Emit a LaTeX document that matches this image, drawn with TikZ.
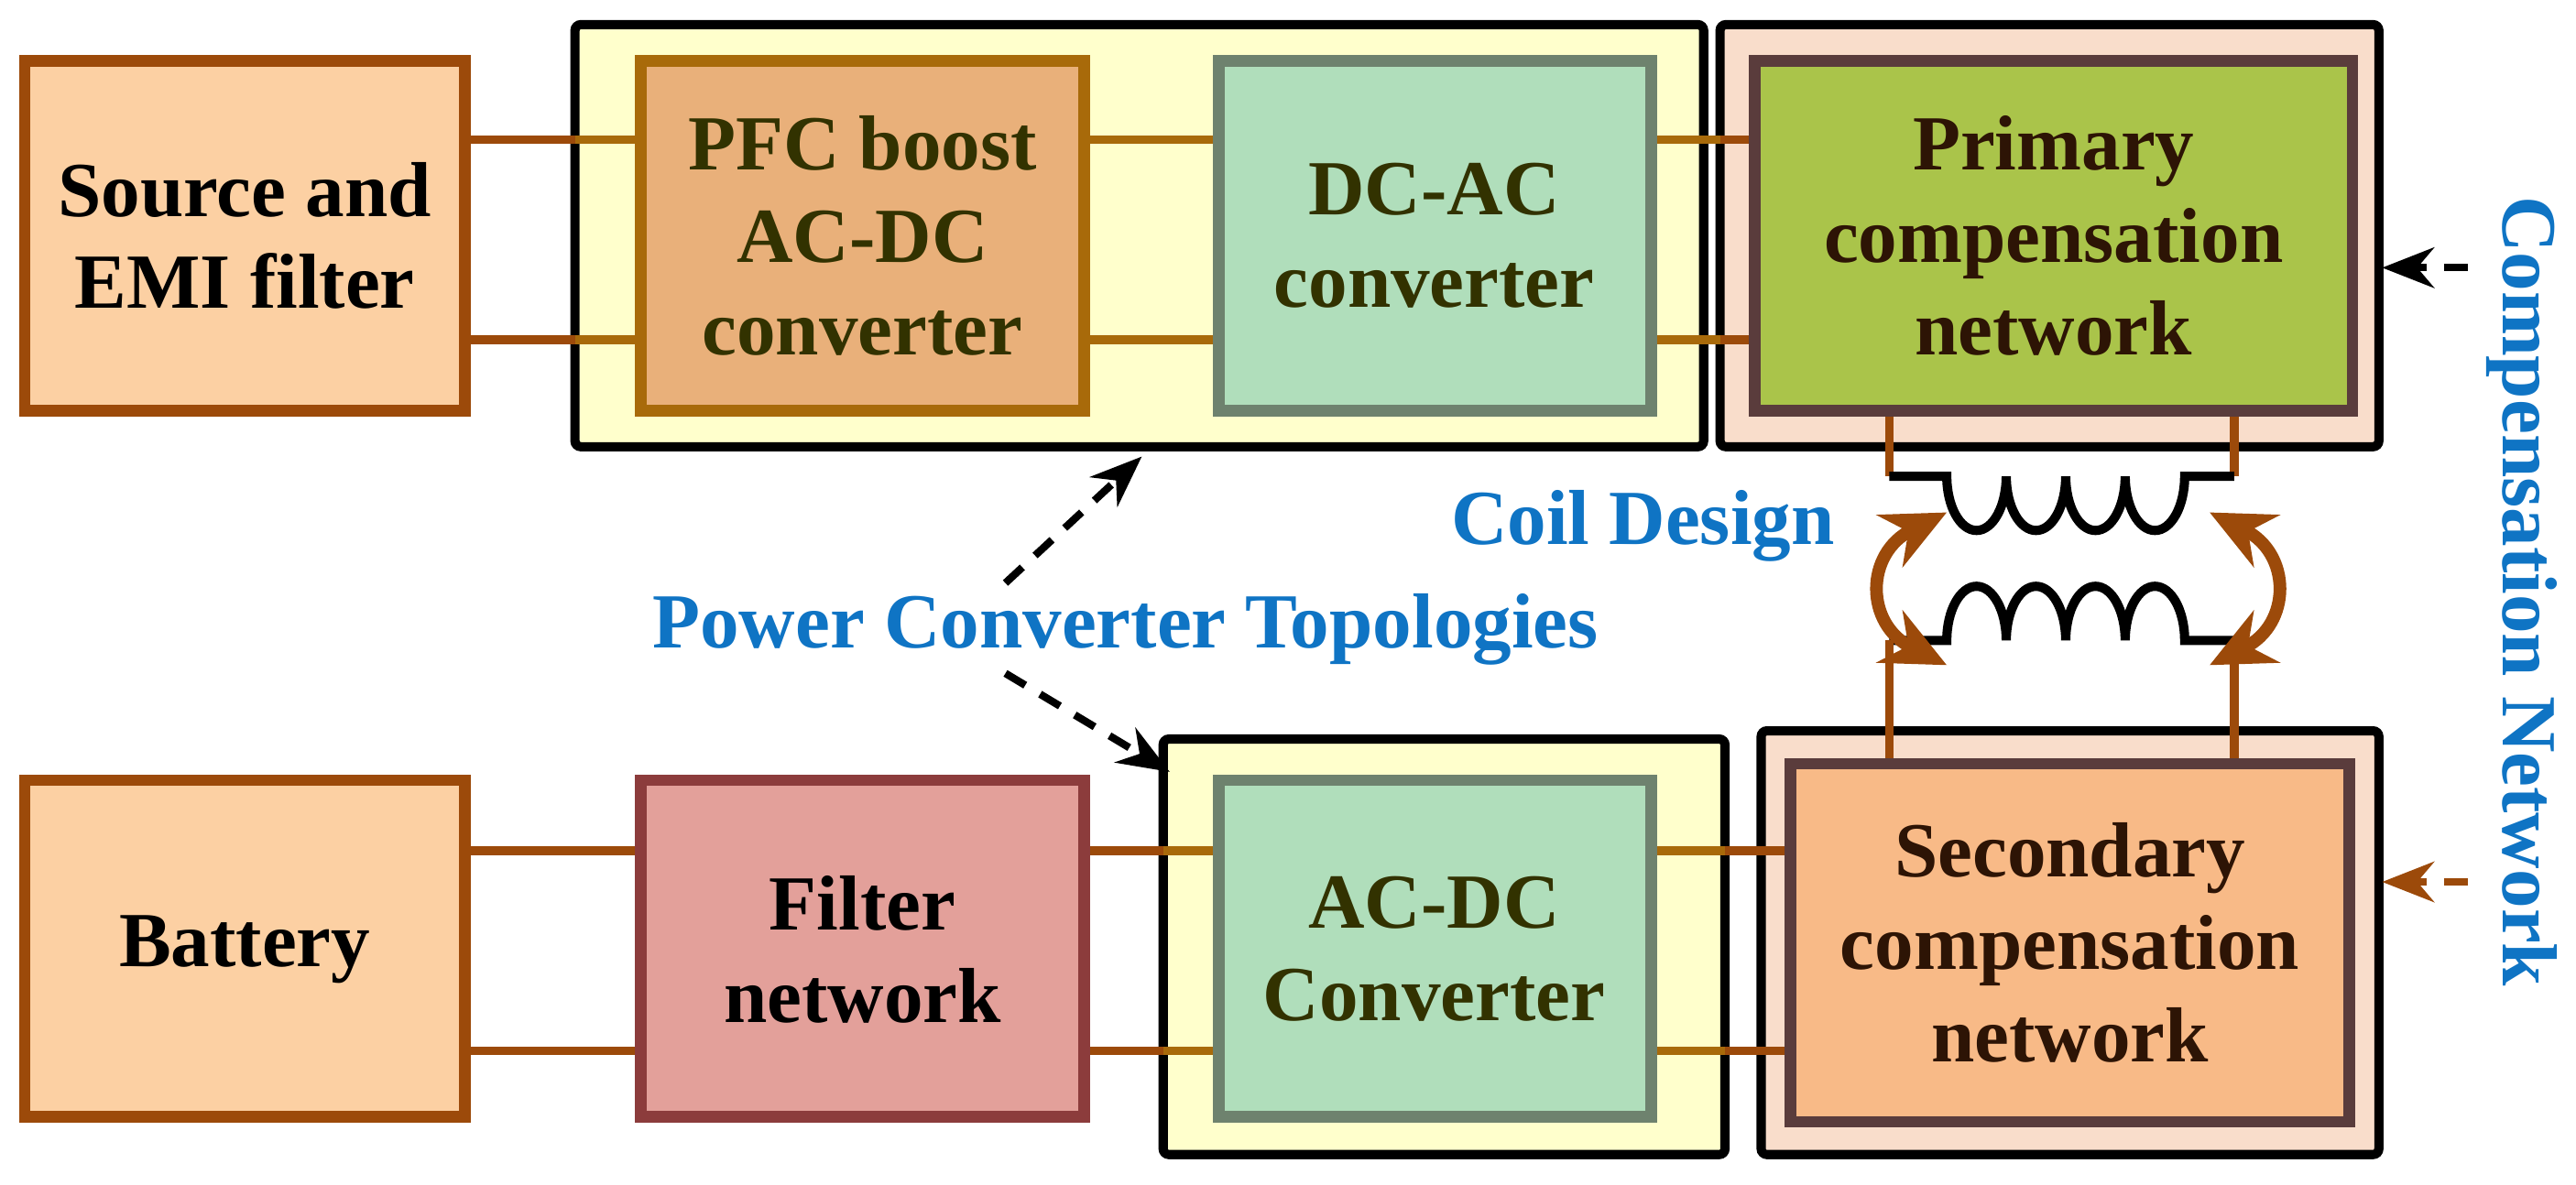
\documentclass[tikz,border=0pt]{standalone}
\usepackage{fontspec}
\setmainfont{Liberation Serif}
\usetikzlibrary{arrows.meta}
\definecolor{wireA}{HTML}{9C4A0A}
\definecolor{wireB}{HTML}{A86A0A}
\definecolor{blu}{HTML}{0F74C4}
\begin{document}
\begin{tikzpicture}[x=0.01cm,y=-0.01cm,
  txt/.style={font=\bfseries\fontsize{13.5}{16}\selectfont,align=center},
  grp/.style={draw=black,line width=1.6pt,rounded corners=1pt},
  box/.style={line width=2pt},
  wire/.style={line width=1.5pt},
  dsh/.style={line width=1.3pt,dash pattern=on 4pt off 3pt,-{Stealth[length=9pt,width=7pt]}},
  lbl/.style={text=blu,font=\bfseries\fontsize{13.5}{16}\selectfont}]
\useasboundingbox (0,0) rectangle (1568,721);
% groups
\draw[grp,fill={rgb,255:red,255;green,255;blue,204}] (350,15) rectangle (1037,272);
\draw[grp,fill={rgb,255:red,249;green,221;blue,203}] (1047,15) rectangle (1448,272);
\draw[grp,fill={rgb,255:red,255;green,255;blue,204}] (708,450) rectangle (1050,703);
\draw[grp,fill={rgb,255:red,249;green,221;blue,203}] (1072,445) rectangle (1448,703);
% wires top
\draw[wire,wireA] (283,85) -- (350,85) (283,207) -- (350,207);
\draw[wire,wireB] (350,85) -- (390,85) (350,207) -- (390,207);
\draw[wire,wireB] (660,85) -- (742,85) (660,207) -- (742,207);
\draw[wire,wireB] (1005,85) -- (1047,85) (1005,207) -- (1047,207);
\draw[wire,wireA] (1047,85) -- (1068,85) (1047,207) -- (1068,207);
% wires bottom
\draw[wire,wireA] (283,518) -- (390,518) (283,640) -- (390,640);
\draw[wire,wireA] (660,518) -- (708,518) (660,640) -- (708,640);
\draw[wire,wireB] (708,518) -- (742,518) (708,640) -- (742,640);
\draw[wire,wireB] (1005,518) -- (1050,518) (1005,640) -- (1050,640);
\draw[wire,wireA] (1050,518) -- (1090,518) (1050,640) -- (1090,640);
% coils
\draw[wire,wireA] (1150,250) -- (1150,290) (1360,250) -- (1360,290);
\draw[line width=1.6pt,black] (1150,290) -- (1185,290)
  arc[start angle=180,end angle=360,x radius=18.1,y radius=-33]
  arc[start angle=180,end angle=360,x radius=18.1,y radius=-33]
  arc[start angle=180,end angle=360,x radius=18.1,y radius=-33]
  arc[start angle=180,end angle=360,x radius=18.1,y radius=-33]
  -- (1360,290);
\draw[line width=1.6pt,black] (1150,390) -- (1185,390)
  arc[start angle=180,end angle=0,x radius=18.1,y radius=-33]
  arc[start angle=180,end angle=0,x radius=18.1,y radius=-33]
  arc[start angle=180,end angle=0,x radius=18.1,y radius=-33]
  arc[start angle=180,end angle=0,x radius=18.1,y radius=-33]
  -- (1360,390);
\draw[wire,wireA] (1150,390) -- (1150,465) (1360,390) -- (1360,465);
% blocks
\draw[box,draw=wireA,fill={rgb,255:red,252;green,208;blue,163}] (15,37) rectangle (283,250);
\node[txt] (srct) at (149,143.5) {Source and\\EMI filter};
\draw[box,draw=wireB,fill={rgb,255:red,233;green,176;blue,122}] (390,37) rectangle (660,250);
\node[txt,text={rgb,255:red,50;green,50;blue,0}] (pfc) at (525,143.5) {PFC boost\\AC-DC\\converter};
\draw[box,draw={rgb,255:red,110;green,130;blue,110},fill={rgb,255:red,176;green,222;blue,187}] (742,37) rectangle (1005,250);
\node[txt,text={rgb,255:red,50;green,50;blue,0}] (dcac) at (873,143.5) {DC-AC\\converter};
\draw[box,draw={rgb,255:red,90;green,60;blue,60},fill={rgb,255:red,170;green,196;blue,74}] (1068,37) rectangle (1432,250);
\node[txt,text={rgb,255:red,45;green,20;blue,5}] (pri) at (1250,143.5) {Primary\\compensation\\network};
\draw[box,draw=wireA,fill={rgb,255:red,252;green,208;blue,163}] (15,475) rectangle (283,680);
\node[txt] (bat) at (149,578) {Battery};
\draw[box,draw={rgb,255:red,140;green,60;blue,60},fill={rgb,255:red,227;green,160;blue,154}] (390,475) rectangle (660,680);
\node[txt] (fil) at (525,578) {Filter\\network};
\draw[box,draw={rgb,255:red,110;green,130;blue,110},fill={rgb,255:red,176;green,222;blue,187}] (742,475) rectangle (1005,680);
\node[txt,text={rgb,255:red,50;green,50;blue,0}] (acdc) at (873,578) {AC-DC\\Converter};
\draw[box,draw={rgb,255:red,90;green,60;blue,60},fill={rgb,255:red,248;green,186;blue,135}] (1090,465) rectangle (1430,683);
\node[txt,text={rgb,255:red,45;green,20;blue,5}] (sec) at (1260,574) {Secondary\\compensation\\network};
% labels
\node[lbl] (coil) at (1000,320) {Coil Design};
\node[lbl] (pct) at (685,383) {Power Converter Topologies};
\node[lbl,rotate=-90] (cn) at (1535,360) {Compensation Network};
% arrows
\coordinate (t1) at (695,278); \coordinate (t2) at (712,470);
\draw[dsh] (612,355) -- (t1);
\draw[dsh] (612,410) -- (t2);
\coordinate (p1) at (1450,163); \coordinate (s1) at (1450,537);
\draw[dsh] (1502,163) -- (p1);
\draw[dsh,wireA] (1502,537) -- (s1);
\draw[line width=2.2pt,wireA,{Stealth[length=11pt,width=10pt]}-{Stealth[length=11pt,width=10pt]}] (1185,312) .. controls (1135,337) and (1135,380) .. (1185,405);
\draw[line width=2.2pt,wireA,{Stealth[length=11pt,width=10pt]}-{Stealth[length=11pt,width=10pt]}] (1345,312) .. controls (1395,337) and (1395,380) .. (1345,405);
\end{tikzpicture}
\end{document}
